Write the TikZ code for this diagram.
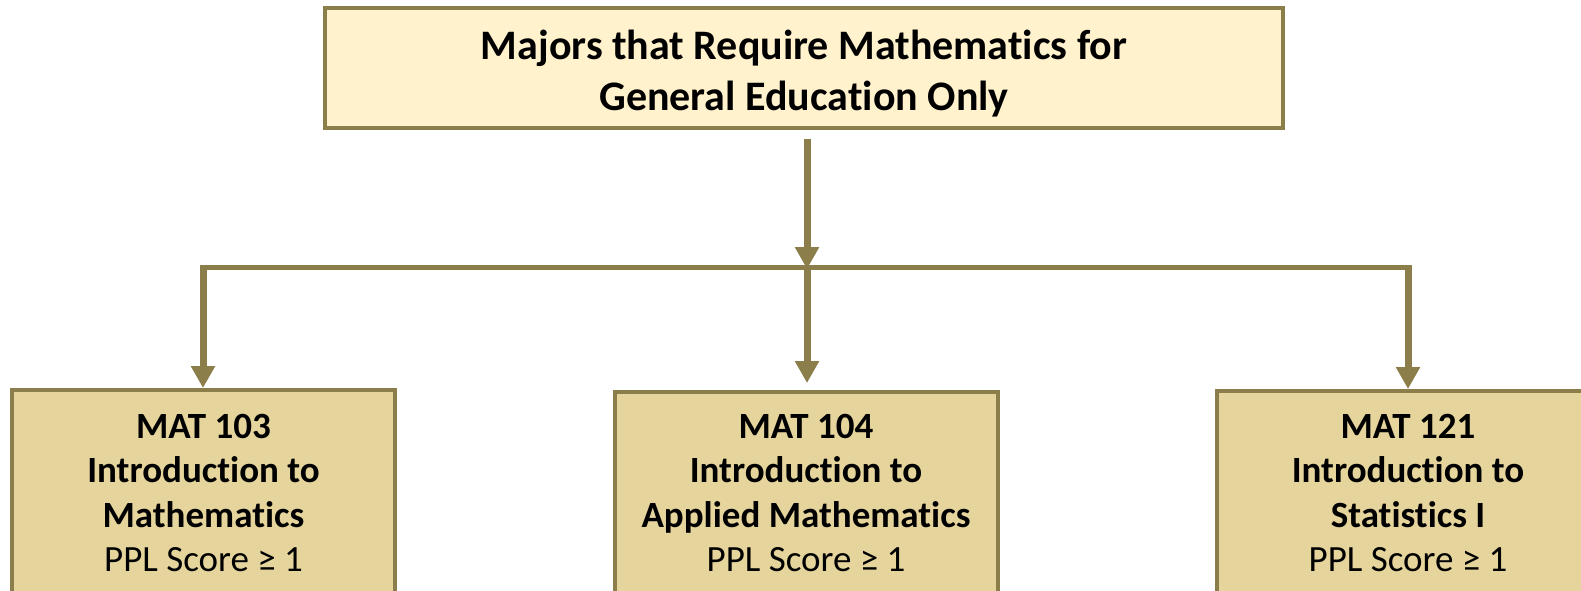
\documentclass[tikz,border=0pt]{standalone}
\usepackage{fontspec}
\setmainfont{Carlito}[RawFeature={-liga;-clig;-calt;-dlig}]
\usetikzlibrary{arrows.meta}
\definecolor{olive}{HTML}{8B7E4A}
\definecolor{topfill}{HTML}{FFF2CC}
\definecolor{botfill}{HTML}{E5D49B}
\tikzset{
  topbox/.style={draw=olive, line width=4pt, fill=topfill, minimum width=958pt, minimum height=120pt, inner sep=0pt},
  botbox/.style={draw=olive, line width=4pt, fill=botfill, minimum width=383pt, minimum height=260pt, inner sep=0pt, anchor=north},
  toptext/.style={align=center, font=\fontsize{42}{51}\selectfont\bfseries, inner sep=0pt},
  bottext/.style={align=center, font=\fontsize{37}{44.5}\selectfont\bfseries, inner sep=0pt},
  shaft/.style={draw=olive, line width=7pt, -{Triangle[width=23pt,length=22pt]}, olive},
  bar/.style={draw=olive, line width=5pt},
}
\begin{document}
\begin{tikzpicture}[x=1pt,y=-1pt]
\useasboundingbox (0,0) rectangle (1581,590);
\clip (0,0) rectangle (1581,590);
\fill[white] (0,0) rectangle (1581,590);
\node[topbox] (top) at (804,68) {};
\node[toptext] (toplabel) at (804,74) {Majors that Require Mathematics for\\General Education Only};
\node[botbox] (b1) at (203.5,388) {};
\node[botbox] (b2) at (806,390) {};
\node[botbox] (b3) at (1408,389) {};
\node[bottext] (t1) at (203.5,493) {MAT 103\\Introduction to\\Mathematics\\{\mdseries PPL Score ≥ 1}};
\node[bottext] (t2) at (806,493) {MAT 104\\Introduction to\\Applied Mathematics\\{\mdseries PPL Score ≥ 1}};
\node[bottext] (t3) at (1408,493) {MAT 121\\Introduction to\\Statistics I\\{\mdseries PPL Score ≥ 1}};
\coordinate (jl) at (203,267);
\coordinate (jm) at (807,267);
\coordinate (jr) at (1408,267);
\draw[bar] (jl) -- (jr);
\draw[shaft] ([xshift=3pt,yshift=-9pt]top.south) -- ([yshift=-2pt]jm);
\draw[shaft] ([yshift=2.5pt]jl) -- (jl |- b1.north);
\draw[shaft] (jm) -- ([yshift=7pt]jm |- b2.north);
\draw[shaft] ([yshift=2.5pt]jr) -- (jr |- b3.north);
\end{tikzpicture}
\end{document}
